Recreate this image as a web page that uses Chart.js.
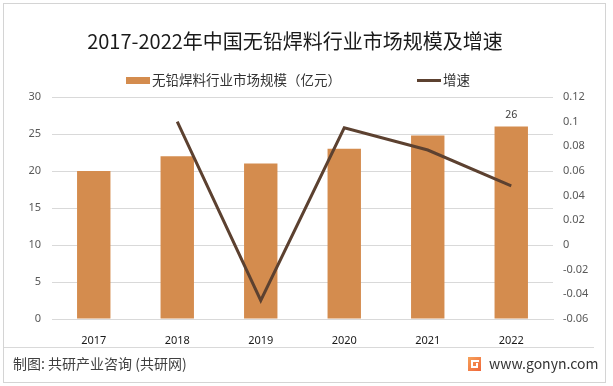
<!DOCTYPE html>
<html>
<head>
<meta charset="utf-8">
<script src="https://cdn.jsdelivr.net/npm/chart.js@4.4.1/dist/chart.umd.min.js"></script>
<style>
  html, body { margin: 0; padding: 0; background: #fff; }
  canvas { display: block; }
</style>
</head>
<body>
<canvas id="chart" width="613" height="386"></canvas>
<script>
// data
const years = ["2017", "2018", "2019", "2020", "2021", "2022"];
const marketSize = [20, 22, 21, 23, 24.8, 26];          // 亿元
const growthRate = [null, 0.1, -0.045, 0.095, 0.077, 0.048];

const titleText = "2017-2022年中国无铅焊料行业市场规模及增速";
const barLabel = "无铅焊料行业市场规模（亿元）";
const lineLabel = "增速";
const sourceText = "制图: 共研产业咨询 (共研网)";
const siteText = "www.gonyn.com";

const barColor = "#D48C4E";
const lineColor = "#5C4130";
const cjk = '"Noto Sans CJK SC", "Noto Sans", sans-serif';

// title, legend, footer, frame and the one data label
const decorPlugin = {
  id: "decor",
  beforeDraw(chart) {
    const c = chart.ctx;
    c.save();
    c.fillStyle = "#fff";
    c.fillRect(0, 0, chart.width, chart.height);
    c.restore();
  },
  afterDraw(chart) {
    const c = chart.ctx;
    c.save();

    // outer frame
    c.strokeStyle = "#d4d4d4";
    c.lineWidth = 1;
    c.strokeRect(3.5, 3.5, 602, 379);

    // title
    c.fillStyle = "#1a1a1a";
    c.font = "20px " + cjk;
    c.textAlign = "center";
    c.textBaseline = "middle";
    c.fillText(titleText, 295, 41);

    // legend
    c.font = "13.5px " + cjk;
    c.textAlign = "left";
    c.fillStyle = barColor;
    c.fillRect(126, 77, 24, 7);
    c.fillStyle = "#333";
    c.fillText(barLabel, 152, 80);
    c.strokeStyle = lineColor;
    c.lineWidth = 3;
    c.beginPath();
    c.moveTo(417, 80.5);
    c.lineTo(441, 80.5);
    c.stroke();
    c.fillStyle = "#333";
    c.fillText(lineLabel, 443, 80);

    // separator + footer
    c.strokeStyle = "#d9d9d9";
    c.lineWidth = 1;
    c.beginPath();
    c.moveTo(4, 347.5);
    c.lineTo(594, 347.5);
    c.stroke();

    c.fillStyle = "#404040";
    c.font = "14px " + cjk;
    c.fillText(sourceText, 13, 364);

    // small logo
    const g = c.createLinearGradient(468, 357, 481, 371);
    g.addColorStop(0, "#F6A25A");
    g.addColorStop(1, "#F0663A");
    c.fillStyle = g;
    c.fillRect(468, 357, 13, 14);
    c.fillStyle = "#fff";
    c.fillRect(471, 360, 8, 2);
    c.fillRect(471, 360, 2, 8);
    c.fillRect(471, 366, 7, 2);
    c.fillRect(476, 363, 2, 4);

    c.fillStyle = "#333";
    c.font = "14px " + cjk;
    c.fillText(siteText, 489, 364);

    // value label on the last bar
    const meta = chart.getDatasetMeta(0);
    const last = meta.data[meta.data.length - 1];
    c.fillStyle = "#404040";
    c.font = "11px " + cjk;
    c.textAlign = "center";
    c.fillText(String(marketSize[marketSize.length - 1]), last.x, last.y - 13);

    c.restore();
  }
};

const ctx = document.getElementById("chart").getContext("2d");

new Chart(ctx, {
  type: "bar",
  data: {
    labels: years,
    datasets: [
      {
        label: barLabel,
        data: marketSize,
        backgroundColor: barColor,
        yAxisID: "y",
        barPercentage: 0.4,
        categoryPercentage: 1,
        order: 1
      },
      {
        type: "line",
        label: lineLabel,
        data: growthRate,
        borderColor: lineColor,
        borderWidth: 3,
        pointRadius: 0,
        tension: 0,
        yAxisID: "y1",
        order: 0
      }
    ]
  },
  options: {
    responsive: false,
    animation: false,
    devicePixelRatio: 1,
    layout: { padding: { top: 97, left: 0, right: 0, bottom: 0 } },
    plugins: {
      legend: { display: false },
      title: { display: false },
      tooltip: { enabled: false }
    },
    scales: {
      x: {
        grid: { display: false },
        border: { color: "#d9d9d9" },
        ticks: { color: "#1a1a1a", padding: 7, font: { size: 11, family: "Noto Sans" } },
        afterFit: (s) => { s.height = 67; }
      },
      y: {
        position: "left",
        min: 0,
        max: 30,
        ticks: { stepSize: 5, color: "#595959", padding: 11, font: { size: 11, family: "Noto Sans" } },
        grid: { color: "#d9d9d9", drawTicks: false },
        border: { display: false },
        afterFit: (s) => { s.width = 52; }
      },
      y1: {
        position: "right",
        min: -0.06,
        max: 0.12,
        ticks: {
          stepSize: 0.02,
          color: "#595959",
          padding: 10,
          font: { size: 11, family: "Noto Sans" },
          callback: (v) => String(Number(v.toFixed(2)))
        },
        grid: { display: false, drawTicks: false },
        border: { display: false },
        afterFit: (s) => { s.width = 60; }
      }
    }
  },
  plugins: [decorPlugin]
});
</script>
</body>
</html>
